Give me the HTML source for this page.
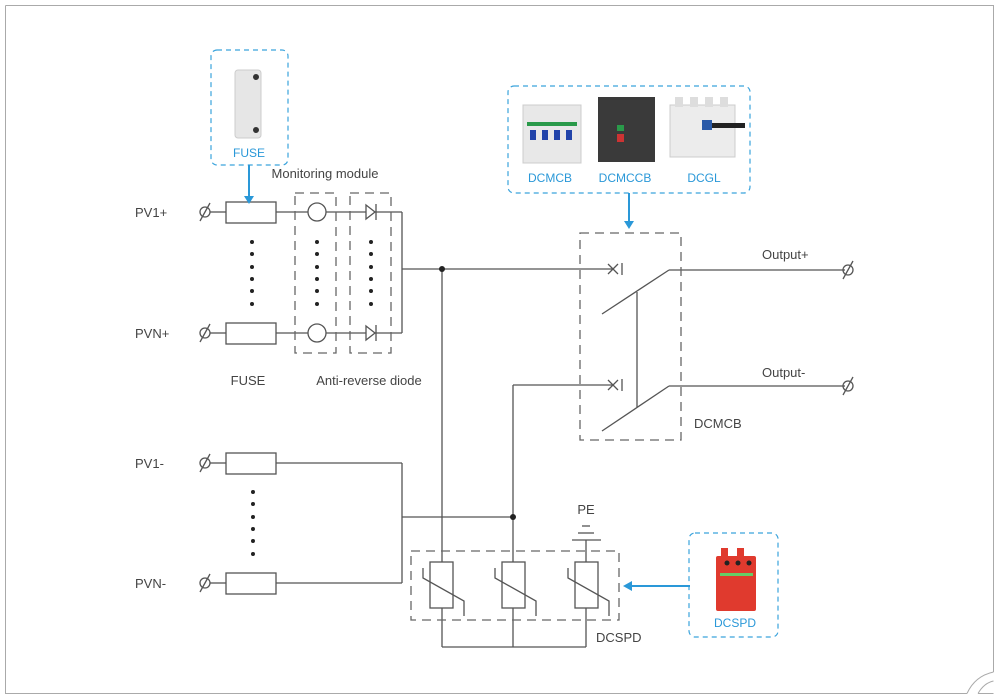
<!DOCTYPE html>
<html><head><meta charset="utf-8"><style>
body{margin:0;background:#fff;}
svg{display:block;font-family:"Liberation Sans",sans-serif;}
</style></head><body>
<svg width="1000" height="699" viewBox="0 0 1000 699">
<rect x="0" y="0" width="1000" height="699" fill="#fff"/>
<path d="M5.5 5.5 H993.5 V672 M5.5 5.5 V693.5 H967" fill="none" stroke="#aaa" stroke-width="1"/>
<path d="M967 693.5 Q975 676 993.5 672 M978 693.5 Q984 683 993.5 681 M978 693.5 H993.5" fill="none" stroke="#aaa"/>

<g stroke="#555" stroke-width="1.3" fill="none">
<!-- top rows -->
<line x1="210" y1="212" x2="226" y2="212"/><rect x="226" y="202" width="50" height="21"/>
<line x1="276" y1="212" x2="308" y2="212"/><circle cx="317" cy="212" r="9"/><line x1="326" y1="212" x2="367" y2="212"/>
<line x1="375" y1="212" x2="402" y2="212"/>
<line x1="210" y1="333" x2="226" y2="333"/><rect x="226" y="323" width="50" height="21"/>
<line x1="276" y1="333" x2="308" y2="333"/><circle cx="317" cy="333" r="9"/><line x1="326" y1="333" x2="367" y2="333"/>
<line x1="375" y1="333" x2="402" y2="333"/>
<line x1="402" y1="212" x2="402" y2="333"/>
<line x1="402" y1="269" x2="613" y2="269"/>
<line x1="442" y1="269" x2="442" y2="562"/>
<!-- bottom rows -->
<line x1="210" y1="463" x2="226" y2="463"/><rect x="226" y="453" width="50" height="21"/><line x1="276" y1="463" x2="402" y2="463"/>
<line x1="210" y1="583" x2="226" y2="583"/><rect x="226" y="573" width="50" height="21"/><line x1="276" y1="583" x2="402" y2="583"/>
<line x1="402" y1="463" x2="402" y2="583"/>
<line x1="402" y1="517" x2="513" y2="517"/>
<line x1="513" y1="385" x2="513" y2="562"/>
<line x1="513" y1="385" x2="613" y2="385"/>
<!-- breaker -->
<path d="M608 264 L618 274 M608 274 L618 264 M622 263 V275"/>
<path d="M608 380 L618 390 M608 390 L618 380 M622 379 V391"/>
<line x1="602" y1="314" x2="669" y2="270"/><line x1="669" y1="270" x2="845" y2="270"/>
<line x1="602" y1="431" x2="669" y2="386"/><line x1="669" y1="386" x2="845" y2="386"/>
<line x1="637" y1="292" x2="637" y2="407"/>
<!-- SPD -->
<rect x="430" y="562" width="23" height="46"/><rect x="502" y="562" width="23" height="46"/><rect x="575" y="562" width="23" height="46"/>
<path d="M423 568 V578 L464 601 V616"/><path d="M495 568 V578 L536 601 V616"/><path d="M568 568 V578 L609 601 V616"/>
<line x1="442" y1="608" x2="442" y2="647"/><line x1="513" y1="608" x2="513" y2="647"/><line x1="586" y1="608" x2="586" y2="647"/>
<line x1="442" y1="647" x2="586" y2="647"/>
<line x1="586" y1="540" x2="586" y2="562"/>
<line x1="572" y1="540" x2="601" y2="540"/><line x1="578" y1="533" x2="594" y2="533"/><line x1="582" y1="526" x2="590" y2="526"/>
<!-- terminals -->
<circle cx="205" cy="212" r="5"/><line x1="200" y1="221" x2="210" y2="203"/>
<circle cx="205" cy="333" r="5"/><line x1="200" y1="342" x2="210" y2="324"/>
<circle cx="205" cy="463" r="5"/><line x1="200" y1="472" x2="210" y2="454"/>
<circle cx="205" cy="583" r="5"/><line x1="200" y1="592" x2="210" y2="574"/>
<circle cx="848" cy="270" r="5"/><line x1="843" y1="279" x2="853" y2="261"/>
<circle cx="848" cy="386" r="5"/><line x1="843" y1="395" x2="853" y2="377"/>
</g>
<!-- diodes -->
<g fill="#fff" stroke="#555" stroke-width="1.3">
<path d="M366 205 L375 212 L366 219 Z"/><line x1="376" y1="204" x2="376" y2="220"/>
<path d="M366 326 L375 333 L366 340 Z"/><line x1="376" y1="325" x2="376" y2="341"/>
</g>
<circle cx="442" cy="269" r="3" fill="#222"/><circle cx="513" cy="517" r="3" fill="#222"/>
<!-- dashed boxes -->
<g stroke="#666" stroke-width="1.3" fill="none" stroke-dasharray="9,6">
<rect x="295" y="193" width="41" height="160"/>
<rect x="350" y="193" width="41" height="160"/>
<rect x="580" y="233" width="101" height="207"/>
<rect x="411" y="551" width="208" height="69"/>
</g>
<!-- dots -->
<g fill="#222">
<circle cx="252" cy="242" r="2"/><circle cx="252" cy="254" r="2"/><circle cx="252" cy="267" r="2"/><circle cx="252" cy="279" r="2"/><circle cx="252" cy="291" r="2"/><circle cx="252" cy="304" r="2"/>
<circle cx="317" cy="242" r="2"/><circle cx="317" cy="254" r="2"/><circle cx="317" cy="267" r="2"/><circle cx="317" cy="279" r="2"/><circle cx="317" cy="291" r="2"/><circle cx="317" cy="304" r="2"/>
<circle cx="371" cy="242" r="2"/><circle cx="371" cy="254" r="2"/><circle cx="371" cy="267" r="2"/><circle cx="371" cy="279" r="2"/><circle cx="371" cy="291" r="2"/><circle cx="371" cy="304" r="2"/>
<circle cx="253" cy="492" r="2"/><circle cx="253" cy="504" r="2"/><circle cx="253" cy="517" r="2"/><circle cx="253" cy="529" r="2"/><circle cx="253" cy="541" r="2"/><circle cx="253" cy="554" r="2"/>
</g>
<!-- labels -->
<g fill="#444" font-size="13">
<text x="135" y="217">PV1+</text><text x="135" y="338">PVN+</text>
<text x="135" y="468">PV1-</text><text x="135" y="588">PVN-</text>
<text x="325" y="178" text-anchor="middle">Monitoring module</text>
<text x="248" y="385" text-anchor="middle">FUSE</text>
<text x="369" y="385" text-anchor="middle">Anti-reverse diode</text>
<text x="762" y="259">Output+</text><text x="762" y="377">Output-</text>
<text x="694" y="428">DCMCB</text>
<text x="586" y="514" text-anchor="middle">PE</text>
<text x="596" y="642">DCSPD</text>
</g>
<!-- blue callouts -->
<g fill="none" stroke="#3aa3dc" stroke-width="1.2" stroke-dasharray="5,4">
<rect x="211" y="50" width="77" height="115" rx="6"/>
<rect x="508" y="86" width="242" height="107" rx="6"/>
<rect x="689" y="533" width="89" height="104" rx="6"/>
</g>
<g stroke="#2a98d8" stroke-width="2" fill="#2a98d8">
<line x1="249" y1="165" x2="249" y2="198"/><path d="M244 196 L249 204 L254 196 Z" stroke="none"/>
<line x1="629" y1="193" x2="629" y2="222"/><path d="M624 221 L629 229 L634 221 Z" stroke="none"/>
<line x1="690" y1="586" x2="630" y2="586"/><path d="M632 581 L623 586 L632 591 Z" stroke="none"/>
</g>
<g fill="#2a98d8" font-size="12" text-anchor="middle">
<text x="249" y="157">FUSE</text>
<text x="550" y="182">DCMCB</text><text x="625" y="182">DCMCCB</text><text x="704" y="182">DCGL</text>
<text x="735" y="627">DCSPD</text>
</g>
<!-- product images -->
<g>
<rect x="235" y="70" width="26" height="68" rx="3" fill="#e6e6e6" stroke="#ccc"/>
<circle cx="256" cy="77" r="3" fill="#333"/><circle cx="256" cy="130" r="3" fill="#333"/>
<rect x="523" y="105" width="58" height="58" fill="#e8e8e8" stroke="#ccc"/>
<rect x="527" y="122" width="50" height="4" fill="#2a9a4a"/>
<rect x="530" y="130" width="6" height="10" fill="#2244aa"/><rect x="542" y="130" width="6" height="10" fill="#2244aa"/><rect x="554" y="130" width="6" height="10" fill="#2244aa"/><rect x="566" y="130" width="6" height="10" fill="#2244aa"/>
<rect x="598" y="97" width="57" height="65" fill="#3a3a3a"/>
<rect x="617" y="125" width="7" height="6" fill="#2a9a4a"/><rect x="617" y="134" width="7" height="8" fill="#cc3333"/>
<rect x="670" y="105" width="65" height="52" fill="#ececec" stroke="#ccc"/>
<rect x="675" y="97" width="8" height="10" fill="#ddd"/><rect x="690" y="97" width="8" height="10" fill="#ddd"/><rect x="705" y="97" width="8" height="10" fill="#ddd"/><rect x="720" y="97" width="8" height="10" fill="#ddd"/>
<rect x="705" y="123" width="40" height="5" fill="#222"/><rect x="702" y="120" width="10" height="10" fill="#2a5aa8"/>
<rect x="716" y="556" width="40" height="55" rx="2" fill="#e03a2e"/>
<rect x="721" y="548" width="7" height="10" fill="#e03a2e"/><rect x="737" y="548" width="7" height="10" fill="#e03a2e"/>
<circle cx="727" cy="563" r="2.5" fill="#222"/><circle cx="738" cy="563" r="2.5" fill="#222"/><circle cx="749" cy="563" r="2.5" fill="#222"/>
<rect x="720" y="573" width="33" height="3" fill="#6c6"/>
</g>
</svg>
</body></html>
